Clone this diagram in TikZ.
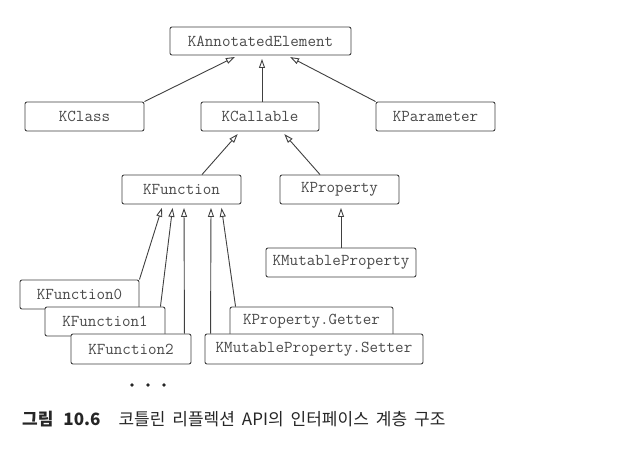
\documentclass[tikz,border=0pt]{standalone}
\usepackage{fontspec}
\newfontfamily\krfont{Noto Sans CJK KR}
\usetikzlibrary{arrows.meta}
\definecolor{boxline}{HTML}{404040}
\definecolor{boxtext}{HTML}{4A4A4A}
\tikzset{
  cls/.style={draw=boxline, line width=0.9pt, rounded corners=2pt, fill=white,
    minimum height=29pt, inner sep=0pt, text=boxtext,
    font=\fontsize{16.6}{19}\selectfont\ttfamily},
  inh/.style={draw=boxline, line width=0.9pt, shorten >=3.5pt,
    -{Triangle[open, length=9pt, width=6pt]}},
}
\begin{document}
\begin{tikzpicture}[x=1pt,y=-1pt]
\useasboundingbox[fill=white] (0,0) rectangle (640,454);
\node[cls, minimum width=181pt, minimum height=28pt] (kae) at (260.5,41) {KAnnotatedElement};
\node[cls, minimum width=119pt] (kclass) at (84.5,116.5) {KClass};
\node[cls, minimum width=118pt] (kcallable) at (260,116.5) {KCallable};
\node[cls, minimum width=119pt] (kparam) at (435.5,116.5) {KParameter};
\node[cls, minimum width=119pt] (kfunc) at (181.5,189.5) {KFunction};
\node[cls, minimum width=119pt] (kprop) at (339.5,189.5) {KProperty};
\node[cls, minimum width=150pt] (kmp) at (341,262.5) {KMutableProperty};
\node[cls, minimum width=119pt] (kf0) at (79.5,294.5) {KFunction0};
\node[cls, minimum width=120pt] (kf1) at (105,321.5) {KFunction1};
\node[cls, minimum width=120pt, minimum height=30pt] (kf2) at (131,349) {KFunction2};
\node[cls, minimum width=163pt] (kpg) at (311.5,321.5) {KProperty.Getter};
\node[cls, minimum width=218pt, minimum height=30pt] (kmps) at (314,349) {KMutableProperty.Setter};

\draw[inh] (kclass.north east) -- ([xshift=-22.5pt]kae.south);
\draw[inh] ([xshift=2pt]kcallable.north) -- ([xshift=1.5pt]kae.south);
\draw[inh] (kparam.north west) -- ([xshift=26.5pt]kae.south);
\draw[inh] ([xshift=20.5pt]kfunc.north) -- ([xshift=-20pt]kcallable.south);
\draw[inh] ([xshift=-19.5pt]kprop.north) -- ([xshift=22pt]kcallable.south);
\draw[inh] (kmp.north) -- (kmp.north |- kprop.south);
\draw[inh] (kf0.north east) -- ([xshift=-18.5pt]kfunc.south);
\draw[inh] ([xshift=-5pt]kf1.north east) -- ([xshift=-8.5pt]kfunc.south);
\draw[inh] ([xshift=-7pt]kf2.north east) -- ([xshift=2.5pt]kfunc.south);
\draw[inh] ([xshift=6pt]kmps.north west) -- ([xshift=29.5pt]kfunc.south);
\draw[inh] ([xshift=6pt]kpg.north west) -- ([xshift=39.5pt]kfunc.south);

\fill[black!85] (132,385) circle (1.8pt) (148,385) circle (1.8pt) (164,385) circle (1.8pt);

\node[anchor=base west, inner sep=0pt, text=black!85] (cap) at (22,425)
  {\krfont\fontsize{17}{20}\selectfont\spaceskip=7pt\relax
   \textbf{그림\hspace{10pt}10.6}\hspace{18pt}코틀린 리플렉션 API의 인터페이스 계층 구조};
\end{tikzpicture}
\end{document}
